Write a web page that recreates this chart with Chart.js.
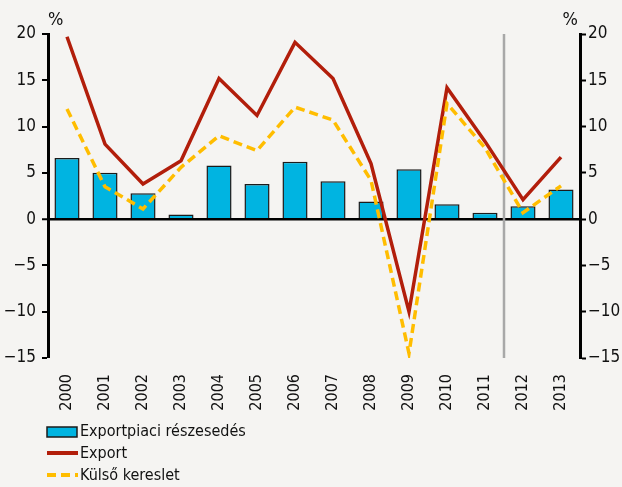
<!DOCTYPE html>
<html>
<head>
<meta charset="utf-8">
<script src="https://cdn.jsdelivr.net/npm/chart.js@4/dist/chart.umd.min.js"></script>
<style>
  html, body { margin: 0; padding: 0; background: #f5f4f2; }
  #wrap { width: 622px; height: 487px; position: relative; }
</style>
</head>
<body>
<div id="wrap"><canvas id="exportChart"></canvas></div>
<script>
// Data (%)
const years = ['2000', '2001', '2002', '2003', '2004', '2005', '2006', '2007', '2008', '2009', '2010', '2011', '2012', '2013'];
const marketShare = [6.6, 5.0, 2.8, 0.5, 5.8, 3.8, 6.2, 4.1, 1.9, 5.4, 1.6, 0.7, 1.4, 3.2];
const exportGrowth = [19.7, 8.1, 3.8, 6.3, 15.2, 11.2, 19.1, 15.2, 6.0, -10.0, 14.2, 8.4, 2.1, 6.7];
const externalDemand = [11.9, 3.5, 1.1, 5.6, 9.0, 7.4, 12.1, 10.7, 4.2, -14.5, 12.5, 7.7, 0.7, 3.6];
const yTicks = [-15, -10, -5, 0, 5, 10, 15, 20];
const legendLabels = ['Exportpiaci részesedés', 'Export', 'Külső kereslet'];

const FONT = '"DejaVu Sans Condensed", "DejaVu Sans", sans-serif';
const TEXT = '#111';
const BLUE = '#00b4e1';
const RED = '#b21e0b';
const YELLOW = '#ffbd00';

// Grey divider between 2011 and 2012, plus the "%" unit labels and the legend
const extrasPlugin = {
  id: 'extras',
  beforeDatasetsDraw(chart) {
    const { ctx, chartArea, scales } = chart;
    const x = (scales.x.getPixelForValue(11) + scales.x.getPixelForValue(12)) / 2;
    ctx.save();
    ctx.strokeStyle = '#a8a8a8';
    ctx.lineWidth = 2.5;
    ctx.beginPath();
    ctx.moveTo(x, chartArea.top);
    ctx.lineTo(x, chartArea.bottom);
    ctx.stroke();
    ctx.restore();
  },
  afterDraw(chart) {
    const { ctx, chartArea } = chart;
    ctx.save();
    ctx.fillStyle = TEXT;
    ctx.font = '18px ' + FONT;
    ctx.textBaseline = 'middle';
    ctx.textAlign = 'left';
    ctx.fillText('%', chartArea.left, 20);
    ctx.textAlign = 'right';
    ctx.fillText('%', chartArea.right - 2, 20);

    // legend, one item per row
    const lx = 47, tx = 80;
    const rows = [432, 454, 476];
    ctx.textAlign = 'left';
    ctx.font = '16px ' + FONT;
    legendLabels.forEach((label, i) => {
      const y = rows[i];
      if (i === 0) {
        ctx.fillStyle = BLUE;
        ctx.fillRect(lx, y - 5, 30, 10);
        ctx.strokeStyle = '#1b1b1b';
        ctx.lineWidth = 1.5;
        ctx.strokeRect(lx, y - 5, 30, 10);
      } else {
        ctx.strokeStyle = i === 1 ? RED : YELLOW;
        ctx.lineWidth = 4;
        ctx.setLineDash(i === 2 ? [9, 5] : []);
        ctx.beginPath();
        ctx.moveTo(lx, y - 1);
        ctx.lineTo(lx + 31, y - 1);
        ctx.stroke();
        ctx.setLineDash([]);
      }
      ctx.fillStyle = TEXT;
      ctx.fillText(label, tx, y);
    });
    ctx.restore();
  }
};

const ctx = document.getElementById('exportChart').getContext('2d');
const exportChart = new Chart(ctx, {
  type: 'bar',
  data: {
    labels: years,
    datasets: [{
      type: 'line',
      label: legendLabels[2],
      data: externalDemand,
      borderColor: YELLOW,
      borderWidth: 3.5,
      borderDash: [9, 5],
      pointRadius: 0,
      tension: 0,
      yAxisID: 'y',
      order: 1
    }, {
      type: 'line',
      label: legendLabels[1],
      data: exportGrowth,
      borderColor: RED,
      borderWidth: 3.5,
      pointRadius: 0,
      tension: 0,
      yAxisID: 'y',
      order: 2
    }, {
      type: 'bar',
      label: legendLabels[0],
      data: marketShare,
      backgroundColor: BLUE,
      borderColor: '#1b1b1b',
      borderWidth: 1.5,
      barPercentage: 0.66,
      categoryPercentage: 1,
      yAxisID: 'y',
      order: 3
    }]
  },
  options: {
    responsive: true,
    maintainAspectRatio: false,
    animation: false,
    layout: {
      padding: { top: 34, bottom: 69, left: 0, right: 0 }
    },
    plugins: {
      legend: { display: false },
      tooltip: { enabled: false }
    },
    scales: {
      x: {
        offset: true,
        grid: { display: false },
        border: { display: false },
        ticks: {
          color: TEXT,
          font: { family: FONT, size: 16 },
          minRotation: 90,
          maxRotation: 90,
          padding: 8
        },
        afterFit(scale) { scale.height = 60; }
      },
      y: {
        position: 'left',
        min: -15,
        max: 20,
        afterBuildTicks(scale) { scale.ticks = yTicks.map(v => ({ value: v })); },
        grid: {
          color: c => (c.tick && c.tick.value === 0 ? '#000' : 'transparent'),
          lineWidth: c => (c.tick && c.tick.value === 0 ? 2.5 : 0),
          tickColor: '#000',
          tickWidth: 2,
          tickLength: 6
        },
        border: { display: true, color: '#000', width: 3 },
        ticks: {
          color: TEXT,
          font: { family: FONT, size: 17 },
          padding: 6,
          callback: v => (v < 0 ? '\u2212' + Math.abs(v) : v)
        },
        afterFit(scale) { scale.width = 48; }
      },
      y1: {
        position: 'right',
        min: -15,
        max: 20,
        afterBuildTicks(scale) { scale.ticks = yTicks.map(v => ({ value: v })); },
        grid: {
          drawOnChartArea: false,
          tickColor: '#000',
          tickWidth: 2,
          tickLength: 6
        },
        border: { display: true, color: '#000', width: 3 },
        ticks: {
          color: TEXT,
          font: { family: FONT, size: 17 },
          padding: 2,
          callback: v => (v < 0 ? '\u2212' + Math.abs(v) : v)
        },
        afterFit(scale) { scale.width = 42; }
      }
    }
  },
  plugins: [extrasPlugin]
});
</script>
</body>
</html>
